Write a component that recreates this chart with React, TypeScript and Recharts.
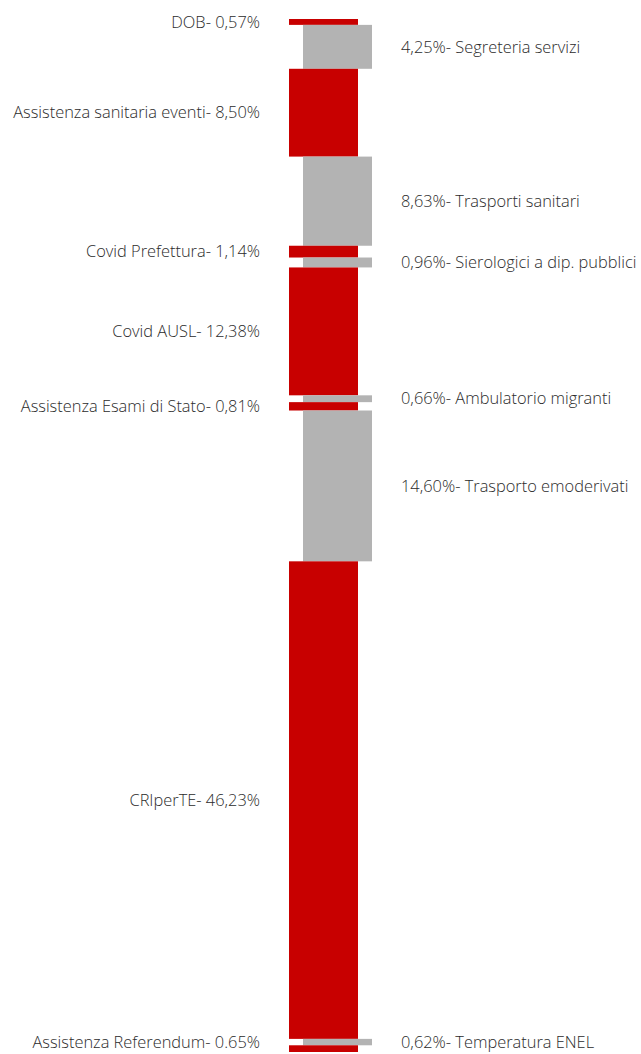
import { Bar, BarChart, LabelList, XAxis, YAxis } from "recharts";

// stacked top to bottom, red and grey alternate
const NAMES = [
  "DOB",
  "Segreteria servizi",
  "Assistenza sanitaria eventi",
  "Trasporti sanitari",
  "Covid Prefettura",
  "Sierologici a dip. pubblici",
  "Covid AUSL",
  "Ambulatorio migranti",
  "Assistenza Esami di Stato",
  "Trasporto emoderivati",
  "CRIperTE",
  "Temperatura ENEL",
  "Assistenza Referendum",
];
const VALUES = [0.57, 4.25, 8.5, 8.63, 1.14, 0.96, 12.38, 0.66, 0.81, 14.6, 46.23, 0.62, 0.65];
const VALUE_TEXT = [
  "0,57%", "4,25%", "8,50%", "8,63%", "1,14%", "0,96%", "12,38%",
  "0,66%", "0,81%", "14,60%", "46,23%", "0,62%", "0.65%",
];

const RED = "#C80000";
const GREY = "#B3B3B3";
const SHIFT = 14;
const GAP = 29;
const FONT = "'Open Sans', sans-serif";
const FONT_SIZE = 16.4;
const INK = "#2b2b2b";

const row: Record<string, number | string> = { cat: "tot" };
VALUES.forEach((v, i) => (row[`s${i}`] = v));
const data = [row];

const isGrey = (i: number) => i % 2 === 1;

// reversed axis gives negative heights, normalise them
const box = (p: any) => {
  const h = Number(p.height);
  const y = h < 0 ? Number(p.y) + h : Number(p.y);
  return { x: Number(p.x), y, w: Number(p.width), h: Math.abs(h) };
};

function makeShape(i: number) {
  return (p: any) => {
    const b = box(p);
    return (
      <rect
        x={b.x + (isGrey(i) ? SHIFT : 0)}
        y={b.y}
        width={b.w}
        height={b.h}
        fill={isGrey(i) ? GREY : RED}
      />
    );
  };
}

function makeLabel(i: number) {
  return (p: any) => {
    const b = box(p);
    const cy = Math.min(b.y + b.h / 2, 1042);
    if (isGrey(i)) {
      return (
        <text x={b.x + SHIFT + b.w + GAP} y={cy} dy="0.35em" textAnchor="start"
          fontFamily={FONT} fontWeight={300} fontSize={FONT_SIZE} fill={INK}>
          {`${VALUE_TEXT[i]}- ${NAMES[i]}`}
        </text>
      );
    }
    return (
      <text x={b.x - GAP} y={cy} dy="0.35em" textAnchor="end"
        fontFamily={FONT} fontWeight={300} fontSize={FONT_SIZE} fill={INK}>
        {`${NAMES[i]}- ${VALUE_TEXT[i]}`}
      </text>
    );
  };
}

export default function App() {
  return (
    <div style={{ position: "absolute", left: 0, top: 0, width: 641, height: 1054, background: "#fff" }}>
      <BarChart width={641} height={1054} data={data} margin={{ top: 19, right: 0, bottom: 2, left: 6 }}>
        <XAxis dataKey="cat" hide />
        <YAxis hide reversed domain={[0, 100]} type="number" />
        {VALUES.map((_, i) => (
          <Bar key={i} dataKey={`s${i}`} stackId="a" barSize={69} shape={makeShape(i)} isAnimationActive={false}>
            <LabelList dataKey={`s${i}`} content={makeLabel(i)} />
          </Bar>
        ))}
      </BarChart>
    </div>
  );
}
